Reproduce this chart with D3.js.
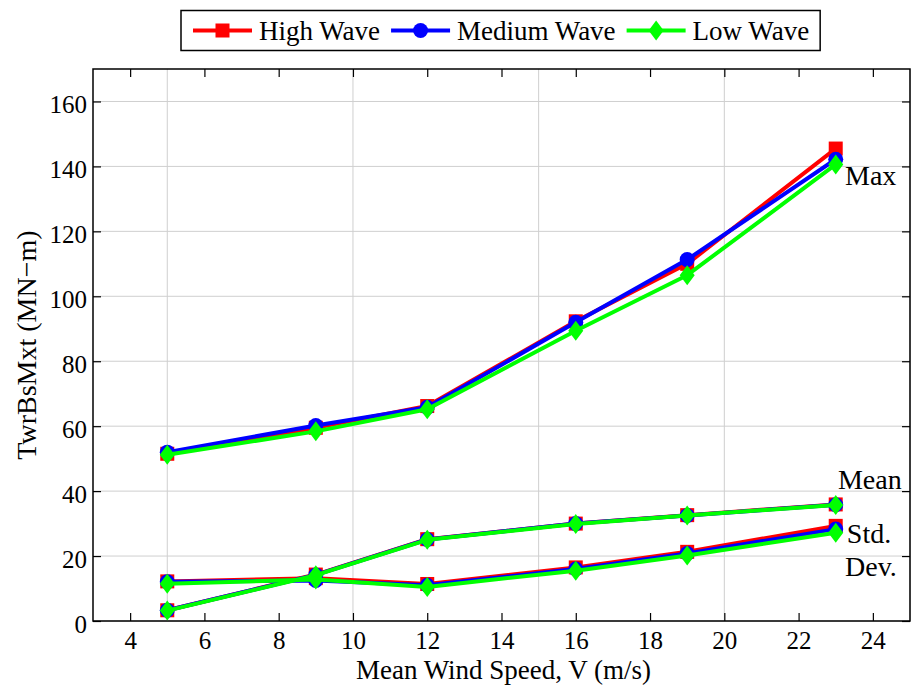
<!DOCTYPE html>
<html>
<head>
<meta charset="utf-8">
<script src="https://cdn.jsdelivr.net/npm/d3@7"></script>
<style>
  html, body { margin: 0; padding: 0; background: #fff; }
  svg { display: block; }
</style>
</head>
<body>
<svg id="chart" width="911" height="685"></svg>
<script>
// Wind speeds at which each case was run (m/s)
const windSpeeds = [5, 9, 12, 16, 19, 23];

// Tower-base moment statistics (MN-m) for each wave condition
const highMax  = [51.5, 59.5, 66.2, 92.3, 110.0, 145.5];
const highMean = [3.3, 14.3, 25.2, 30.0, 32.6, 35.9];
const highStd  = [12.2, 13.2, 11.4, 16.5, 21.3, 29.3];

const mediumMax  = [52.0, 60.2, 65.8, 92.0, 111.3, 142.2];
const mediumMean = [3.3, 14.2, 25.1, 30.0, 32.5, 35.8];
const mediumStd  = [12.1, 12.5, 11.0, 16.0, 20.8, 28.3];

const lowMax  = [51.2, 58.4, 65.2, 89.4, 106.5, 140.6];
const lowMean = [3.2, 14.1, 25.0, 29.9, 32.5, 35.7];
const lowStd  = [11.5, 12.8, 10.5, 15.5, 20.2, 27.2];

const seriesNames = ["High Wave", "Medium Wave", "Low Wave"];
const seriesColors = ["#ff0000", "#0000ff", "#00ff00"];
const seriesMarkers = ["square", "circle", "diamond"];

const xTicks = [4, 6, 8, 10, 12, 14, 16, 18, 20, 22, 24];
const xGrid = [5, 10, 15, 20, 25];
const yTicks = [0, 20, 40, 60, 80, 100, 120, 140, 160];

const annotations = [
  { text: "Max",  x: 23.25, y: 134.3 },
  { text: "Mean", x: 23.06, y: 40.6 },
  { text: "Std.", x: 23.30, y: 24.1 },
  { text: "Dev.", x: 23.25, y: 14.0 }
];

const series = [
  { name: seriesNames[0], color: seriesColors[0], marker: seriesMarkers[0], lines: [highMax, highMean, highStd] },
  { name: seriesNames[1], color: seriesColors[1], marker: seriesMarkers[1], lines: [mediumMax, mediumMean, mediumStd] },
  { name: seriesNames[2], color: seriesColors[2], marker: seriesMarkers[2], lines: [lowMax, lowMean, lowStd] }
];

const FONT = '"Liberation Serif", "Times New Roman", "DejaVu Serif", serif';

const svg = d3.select("#chart");
const plot = { left: 93, right: 910, top: 69, bottom: 621 };

const x = d3.scaleLinear().domain([3, 25]).range([plot.left, plot.right]);
const y = d3.scaleLinear().domain([0, 170]).range([plot.bottom, plot.top]);

// grid
const grid = svg.append("g").attr("stroke", "#cfcfcf").attr("stroke-width", 1);
grid.selectAll("line.gx").data(xGrid).join("line")
  .attr("x1", d => x(d)).attr("x2", d => x(d))
  .attr("y1", plot.top).attr("y2", plot.bottom);
grid.selectAll("line.gy").data(yTicks).join("line")
  .attr("x1", plot.left).attr("x2", plot.right)
  .attr("y1", d => y(d)).attr("y2", d => y(d));

// axes with inward ticks
const tickFont = 25;
const axB = svg.append("g").attr("transform", `translate(0,${plot.bottom})`)
  .call(d3.axisBottom(x).tickValues(xTicks).tickSize(-8).tickPadding(11).tickFormat(d3.format("d")));
const axT = svg.append("g").attr("transform", `translate(0,${plot.top})`)
  .call(d3.axisTop(x).tickValues(xTicks).tickSize(-8).tickFormat(""));
const axL = svg.append("g").attr("transform", `translate(${plot.left},0)`)
  .call(d3.axisLeft(y).tickValues(yTicks).tickSize(-8).tickPadding(6).tickFormat(d3.format("d")));
const axR = svg.append("g").attr("transform", `translate(${plot.right},0)`)
  .call(d3.axisRight(y).tickValues(yTicks).tickSize(-8).tickFormat(""));

[axB, axT, axL, axR].forEach(a => {
  a.attr("font-family", FONT).attr("font-size", tickFont);
  a.select(".domain").remove();
  a.selectAll(".tick line").attr("stroke", "#000").attr("stroke-width", 1.2);
  a.selectAll(".tick text").attr("fill", "#000");
});
axL.selectAll(".tick text").attr("dy", "0.45em");
axB.selectAll(".tick text").attr("dy", "0.66em");

// frame
svg.append("rect")
  .attr("x", plot.left).attr("y", plot.top)
  .attr("width", plot.right - plot.left).attr("height", plot.bottom - plot.top)
  .attr("fill", "none").attr("stroke", "#000").attr("stroke-width", 1.5);

// marker drawing
function drawMarker(g, type, cx, cy, color) {
  if (type === "square") {
    g.append("rect").attr("x", cx - 7).attr("y", cy - 7).attr("width", 14).attr("height", 14).attr("fill", color);
  } else if (type === "circle") {
    g.append("circle").attr("cx", cx).attr("cy", cy).attr("r", 7.5).attr("fill", color);
  } else {
    g.append("path").attr("d", `M${cx},${cy - 10}L${cx + 7.5},${cy}L${cx},${cy + 10}L${cx - 7.5},${cy}Z`).attr("fill", color);
  }
}

const line = d3.line().x((d, i) => x(windSpeeds[i])).y(d => y(d));

series.forEach(s => {
  const g = svg.append("g");
  s.lines.forEach(vals => {
    g.append("path").datum(vals).attr("d", line)
      .attr("fill", "none").attr("stroke", s.color).attr("stroke-width", 4)
      .attr("stroke-linejoin", "round");
    vals.forEach((v, i) => drawMarker(g, s.marker, x(windSpeeds[i]), y(v), s.color));
  });
});

// annotations
svg.append("g").attr("font-family", FONT).selectAll("text").data(annotations).join("text")
  .attr("x", d => x(d.x)).attr("y", d => y(d.y))
  .attr("font-size", 28).attr("fill", "#000").text(d => d.text);

// axis labels
svg.append("text")
  .attr("font-family", FONT)
  .attr("x", (plot.left + plot.right) / 2 + 2).attr("y", 679)
  .attr("text-anchor", "middle").attr("font-size", 27).attr("fill", "#000")
  .text("Mean Wind Speed, V (m/s)");
svg.append("text")
  .attr("font-family", FONT)
  .attr("transform", `translate(36,${(plot.top + plot.bottom) / 2}) rotate(-90)`)
  .attr("text-anchor", "middle").attr("font-size", 28).attr("fill", "#000")
  .text("TwrBsMxt (MN\u2212m)");

// legend
const legend = svg.append("g").attr("font-family", FONT);
const box = legend.append("rect").attr("x", 181).attr("y", 10.5).attr("height", 40)
  .attr("fill", "#fff").attr("stroke", "#000").attr("stroke-width", 1.5);
let cursor = 193;
series.forEach(s => {
  legend.append("line").attr("x1", cursor).attr("x2", cursor + 59)
    .attr("y1", 30.5).attr("y2", 30.5).attr("stroke", s.color).attr("stroke-width", 4);
  drawMarker(legend, s.marker, cursor + 29.5, 30.5, s.color);
  const t = legend.append("text").attr("x", cursor + 66).attr("y", 39.5)
    .attr("font-size", 27).attr("fill", "#000").text(s.name);
  cursor = cursor + 66 + t.node().getComputedTextLength() + 11;
});
box.attr("width", cursor - 181);
</script>
</body>
</html>
